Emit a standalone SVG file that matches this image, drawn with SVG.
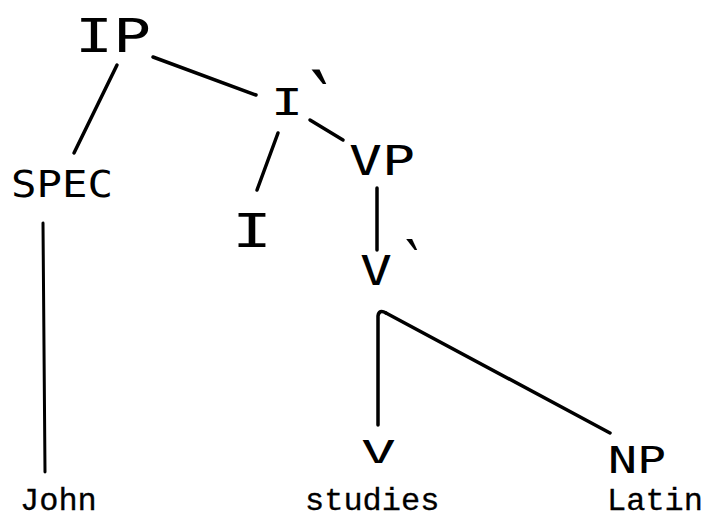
<svg xmlns="http://www.w3.org/2000/svg" width="713" height="520" viewBox="0 0 713 520">
  <style>
    .hand { font-family: "DejaVu Sans Mono", "Liberation Mono", monospace; fill: #000; }
    .mark { font-family: "DejaVu Sans", "Noto Sans", sans-serif; fill: #000; }
    .typed { font-family: "Liberation Mono", "Courier New", Courier, monospace; font-size: 32px; fill: #000; stroke: #000; stroke-width: 0.3; }
    .edge { fill: none; stroke: #000; stroke-width: 3.5; stroke-linecap: round; stroke-linejoin: round; }
  </style>
  <rect width="713" height="520" fill="#fff"/>

  <!-- tree branches -->
  <g id="connectors">
    <path class="edge" d="M117,65 L74,153"/>
    <path class="edge" d="M153,57 L256,95"/>
    <path class="edge" d="M278,133 L257,190"/>
    <path class="edge" d="M310,120 L343,140"/>
    <path class="edge" d="M377,188 L377,250"/>
    <path class="edge" d="M378,425 L378,316 Q379,309 386,313"/>
    <path class="edge" d="M386,313 L610,433"/>
    <path class="edge" style="stroke-width:3" d="M43,223 L45,472"/>
  </g>

  <!-- phrase nodes -->
  <g id="node-IP">
    <text class="hand" x="75" y="52" font-size="46" textLength="76" lengthAdjust="spacingAndGlyphs">IP</text>
  </g>
  <g id="node-Ibar">
    <text class="hand" x="271" y="115" font-size="37"><tspan textLength="32" lengthAdjust="spacingAndGlyphs">I</tspan><tspan class="mark" x="310" y="128" font-size="80">‵</tspan></text>
  </g>
  <g id="node-SPEC">
    <text class="hand" x="11" y="197" font-size="37" textLength="102" lengthAdjust="spacingAndGlyphs">SPEC</text>
  </g>
  <g id="node-I">
    <text class="hand" x="232" y="247" font-size="46" textLength="40" lengthAdjust="spacingAndGlyphs">I</text>
  </g>
  <g id="node-VP">
    <text class="hand" x="349" y="175" font-size="40" textLength="66" lengthAdjust="spacingAndGlyphs">VP</text>
  </g>
  <g id="node-Vbar">
    <text class="hand" x="360" y="285" font-size="41"><tspan textLength="32" lengthAdjust="spacingAndGlyphs">V</tspan><tspan class="mark" x="405" y="283" font-size="60">‵</tspan></text>
  </g>
  <g id="node-V">
    <text class="hand" x="361" y="463" font-size="32" textLength="35" lengthAdjust="spacingAndGlyphs">V</text>
  </g>
  <g id="node-NP">
    <text class="hand" x="608" y="473" font-size="38" textLength="58" lengthAdjust="spacingAndGlyphs">NP</text>
  </g>

  <!-- words -->
  <g id="word-John"><text class="typed" x="20" y="510">John</text></g>
  <g id="word-studies"><text class="typed" x="305" y="510">studies</text></g>
  <g id="word-Latin"><text class="typed" x="607" y="510">Latin</text></g>
</svg>
